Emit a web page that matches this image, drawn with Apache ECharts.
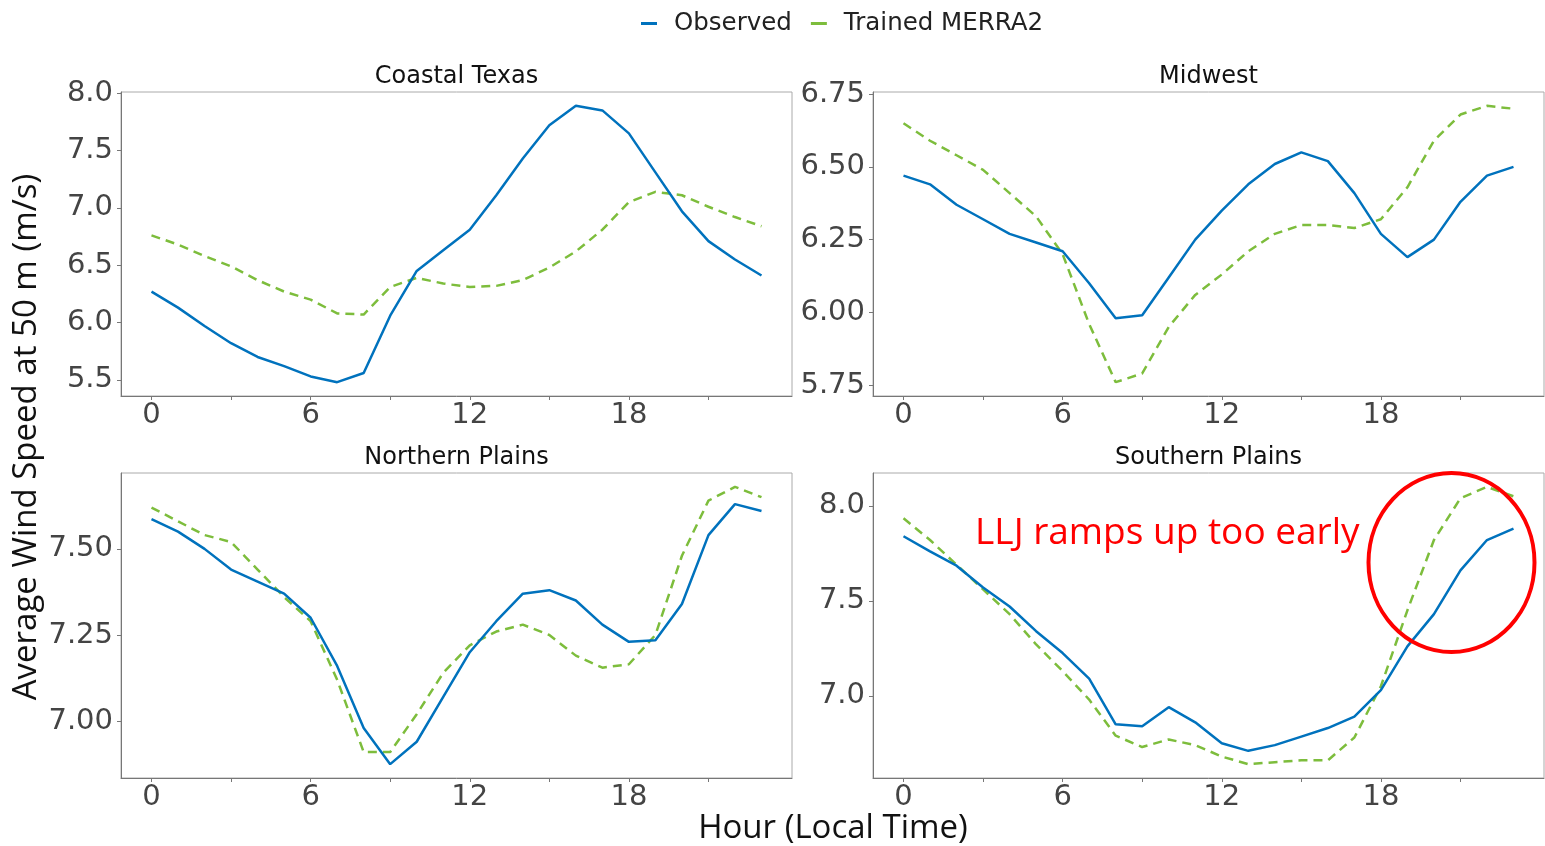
<!DOCTYPE html>
<html><head><meta charset="utf-8">
<script src="https://cdn.jsdelivr.net/npm/echarts@6/dist/echarts.min.js"></script>
<style>html,body{margin:0;padding:0;background:#fff}#c{width:1545px;height:846px}</style>
</head><body><div id="c"></div><script>
const hours = [0,1,2,3,4,5,6,7,8,9,10,11,12,13,14,15,16,17,18,19,20,21,22,23];
const panelTitles = ['Coastal Texas', 'Midwest', 'Northern Plains', 'Southern Plains'];
const seriesNames = ['Observed', 'Trained MERRA2'];

const coastalObserved = [6.27,6.13,5.97,5.82,5.70,5.62,5.53,5.48,5.56,6.06,6.45,6.63,6.81,7.11,7.43,7.72,7.89,7.85,7.65,7.31,6.97,6.71,6.55,6.41];
const coastalTrained  = [6.76,6.68,6.58,6.49,6.37,6.27,6.20,6.08,6.07,6.31,6.39,6.34,6.31,6.32,6.37,6.48,6.62,6.81,7.05,7.14,7.11,7.01,6.92,6.84];

const midwestObserved = [6.47,6.44,6.37,6.32,6.27,6.24,6.21,6.10,5.98,5.99,6.12,6.25,6.35,6.44,6.51,6.55,6.52,6.41,6.27,6.19,6.25,6.38,6.47,6.50];
const midwestTrained  = [6.65,6.59,6.54,6.49,6.41,6.33,6.20,5.96,5.76,5.79,5.95,6.06,6.13,6.21,6.27,6.30,6.30,6.29,6.32,6.43,6.59,6.68,6.71,6.70];

const northernObserved = [7.586,7.55,7.50,7.44,7.405,7.37,7.30,7.16,6.98,6.875,6.94,7.07,7.20,7.29,7.37,7.38,7.35,7.28,7.23,7.235,7.34,7.54,7.63,7.61];
const northernTrained  = [7.62,7.58,7.54,7.52,7.44,7.36,7.29,7.12,6.91,6.91,7.02,7.14,7.22,7.26,7.28,7.25,7.19,7.155,7.165,7.25,7.48,7.64,7.68,7.65];

const southernObserved = [7.84,7.76,7.685,7.57,7.47,7.34,7.225,7.09,6.85,6.84,6.94,6.86,6.75,6.71,6.74,6.785,6.83,6.89,7.03,7.26,7.43,7.66,7.82,7.88];
const southernTrained  = [7.935,7.82,7.69,7.56,7.43,7.27,7.13,6.98,6.79,6.73,6.77,6.74,6.68,6.64,6.65,6.66,6.66,6.78,7.05,7.45,7.82,8.04,8.10,8.05];

const xTickLabels = [0, 6, 12, 18];
const xTickMarks = [0, 3, 6, 9, 12, 15, 18, 21];
const coastalYTicks = [5.5, 6.0, 6.5, 7.0, 7.5, 8.0];
const midwestYTicks = [5.75, 6.00, 6.25, 6.50, 6.75];
const northernYTicks = [7.00, 7.25, 7.50];
const southernYTicks = [7.0, 7.5, 8.0];
const yTickDecimals = [1, 2, 2, 1];

const annotationText = 'LLJ ramps up too early';
const xAxisTitle = 'Hour (Local Time)';
const yAxisTitle = 'Average Wind Speed at 50 m (m/s)';

const panelData = [
  [coastalObserved, coastalTrained, coastalYTicks],
  [midwestObserved, midwestTrained, midwestYTicks],
  [northernObserved, northernTrained, northernYTicks],
  [southernObserved, southernTrained, southernYTicks]
];

const BLUE = '#0072BD', GREEN = '#7dbd3c';
const grids = [
  {left: 121, top: 92, width: 671, height: 304},
  {left: 873, top: 92, width: 671, height: 304},
  {left: 121, top: 473, width: 671, height: 305},
  {left: 873, top: 473, width: 671, height: 305}
];

const xAxes = [], yAxes = [], series = [], graphics = [];
panelData.forEach((p, i) => {
  const all = p[0].concat(p[1]);
  const lo = Math.min(...all), hi = Math.max(...all), pad = (hi - lo) * 0.05;
  const xpad = (hours[hours.length - 1] - hours[0]) * 0.05;
  xAxes.push({
    type: 'value', gridIndex: i, min: hours[0] - xpad, max: hours[hours.length - 1] + xpad,
    splitLine: {show: false},
    axisLine: {show: true, onZero: false, lineStyle: {color: '#777', width: 1}},
    axisTick: {show: true, length: 4, lineStyle: {color: '#777'}, customValues: xTickMarks},
    axisLabel: {customValues: xTickLabels, color: '#444', fontSize: 29, fontFamily: 'DejaVu Sans', margin: 5}
  });
  yAxes.push({
    type: 'value', gridIndex: i, min: lo - pad, max: hi + pad,
    splitLine: {show: false},
    axisLine: {show: true, onZero: false, lineStyle: {color: '#777', width: 1}},
    axisTick: {show: true, length: 4, lineStyle: {color: '#777'}, customValues: p[2]},
    axisLabel: {customValues: p[2], color: '#444', fontSize: 29, fontFamily: 'DejaVu Sans', margin: 8,
      formatter: v => Number(v).toFixed(yTickDecimals[i])}
  });
  series.push({
    name: seriesNames[0], type: 'line', xAxisIndex: i, yAxisIndex: i, showSymbol: false, symbol: 'none',
    color: BLUE, lineStyle: {color: BLUE, width: 2.5}, z: 3,
    data: hours.map((h, k) => [h, p[0][k]])
  });
  series.push({
    name: seriesNames[1], type: 'line', xAxisIndex: i, yAxisIndex: i, showSymbol: false, symbol: 'none',
    color: GREEN, lineStyle: {color: GREEN, width: 2.5, type: [9, 6]}, z: 2,
    data: hours.map((h, k) => [h, p[1][k]])
  });
  const g = grids[i];
  graphics.push({
    type: 'text', x: g.left + g.width / 2, y: g.top - 15,
    style: {text: panelTitles[i], fill: '#111', font: '24px "DejaVu Sans"', textAlign: 'center', textVerticalAlign: 'middle'}
  });
});

graphics.push({
  type: 'text', x: 27, y: 437, rotation: Math.PI / 2,
  style: {text: yAxisTitle, fill: '#111', font: '33px "Open Sans"', textAlign: 'center', textVerticalAlign: 'middle'}
});
graphics.push({
  type: 'text', x: 833, y: 829,
  style: {text: xAxisTitle, fill: '#111', font: '33px "Open Sans"', textAlign: 'center', textVerticalAlign: 'middle'}
});
graphics.push({
  type: 'text', x: 975, y: 533, z: 20,
  style: {text: annotationText, fill: '#ff0000', font: '37px "Open Sans"', textAlign: 'left', textVerticalAlign: 'middle'}
});
graphics.push({
  type: 'ellipse', z: 20,
  shape: {cx: 1451.5, cy: 562.5, rx: 83, ry: 89.5},
  style: {fill: 'none', stroke: '#ff0000', lineWidth: 4}
});

const chart = echarts.init(document.getElementById('c'), null, {renderer: 'canvas'});
chart.setOption({
  backgroundColor: '#fff',
  animation: false,
  grid: grids.map(g => Object.assign({show: true, borderColor: '#aaa', borderWidth: 1, backgroundColor: 'transparent', containLabel: false}, g)),
  xAxis: xAxes,
  yAxis: yAxes,
  legend: {
    data: seriesNames, left: 636, top: 6, itemWidth: 16, itemHeight: 3, icon: 'rect', itemGap: 19,
    textStyle: {fontSize: 24.5, fontFamily: 'DejaVu Sans', color: '#222', padding: [0, 0, 0, 12]}
  },
  series: series,
  graphic: graphics
});
</script></body></html>
